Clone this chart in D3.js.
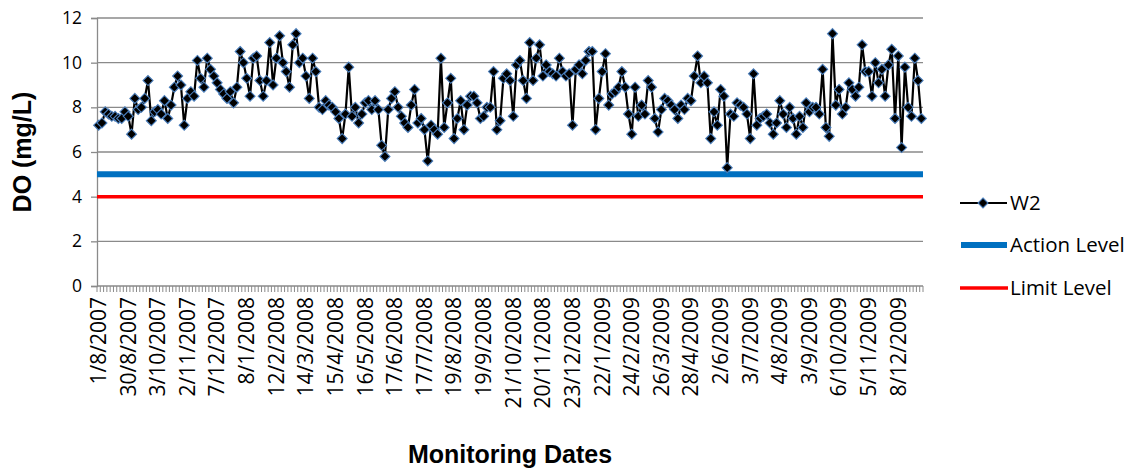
<!DOCTYPE html>
<html>
<head>
<meta charset="utf-8">
<script src="https://cdn.jsdelivr.net/npm/d3@7/dist/d3.min.js"></script>
<style>
  html, body { margin: 0; padding: 0; background: #fff; }
  svg { display: block; }
</style>
</head>
<body>
<svg id="chart" width="1131" height="472"></svg>
<script>
// Dissolved oxygen readings at station W2, one value per monitoring visit (mg/L)
const w2 = [
  7.2, 7.3, 7.8, 7.7, 7.6, 7.6, 7.5, 7.5, 7.8, 7.6, 6.8, 8.4, 7.9, 8.0, 8.4, 9.2, 7.4, 7.8, 7.9, 7.7,
  8.3, 7.5, 8.1, 8.9, 9.4, 9.0, 7.2, 8.4, 8.7, 8.5, 10.1, 9.3, 8.9, 10.2, 9.7, 9.4, 9.1, 8.8, 8.6, 8.4,
  8.7, 8.2, 8.9, 10.5, 10.0, 9.3, 8.5, 10.2, 10.3, 9.2, 8.5, 9.2, 10.9, 9.0, 10.2, 11.2, 10.0, 9.6, 8.9, 10.8,
  11.3, 10.0, 10.2, 9.4, 8.4, 10.2, 9.6, 8.0, 7.9, 8.3, 8.1, 8.0, 7.8, 7.5, 6.6, 7.7, 9.8, 7.6, 8.0, 7.3,
  7.7, 8.2, 8.3,
  7.9, 8.3, 7.9, 6.3, 5.8, 7.9, 8.4, 8.7, 8.0, 7.6, 7.3, 7.1, 8.1, 8.8, 7.3, 7.5, 7.0, 5.6, 7.2, 7.0,
  6.8, 10.2, 7.1, 8.2, 9.3, 6.6, 7.5, 8.3, 7.0, 8.1, 8.5, 8.5, 8.2, 7.5, 7.6, 8.0, 8.0, 9.6, 7.0, 7.4,
  9.3, 9.5,
  9.2, 7.6, 9.9, 10.1, 9.2, 8.4, 10.9, 9.2, 10.2, 10.8, 9.4, 9.9, 9.6, 9.5, 9.4, 10.2, 9.6, 9.4, 9.5, 7.2,
  9.7, 9.9, 9.5, 10.1, 10.5, 10.5, 7.0, 8.4, 9.6, 10.4, 8.1, 8.6, 8.7, 8.9, 9.6, 8.9, 7.7, 6.8, 8.9, 7.6,
  8.1, 7.7, 9.2,
  8.9, 7.5, 6.9, 7.9, 8.4, 8.3, 8.1, 7.9, 7.5, 8.1, 7.9, 8.4, 8.3, 9.4, 10.3, 9.1, 9.4, 9.1, 6.6, 7.8,
  7.2, 8.8, 8.5, 5.3, 7.7, 7.6, 8.2, 8.1, 8.0, 7.7, 6.6, 9.5, 7.2, 7.5, 7.6, 7.7, 7.3, 6.8, 7.3, 8.3,
  7.7, 7.1,
  8.0, 7.5, 6.8, 7.6, 7.1, 8.2, 7.8, 8.0, 8.0, 7.7, 9.7, 7.1, 6.7, 11.3, 8.1, 8.8, 7.7, 8.0, 9.1, 8.8,
  8.5, 8.9, 10.8, 9.6, 9.6, 8.5, 10.0, 9.1, 9.7, 8.5, 9.9, 10.6, 7.5, 10.3, 6.2, 9.8, 8.0, 7.6, 10.2, 9.2,
  7.5
];

// Regulatory reference levels (mg/L)
const actionLevel = 5;
const limitLevel = 4;

// Date labels shown along the category axis, one every nine visits
const dateLabels = [
  "1/8/2007", "30/8/2007", "3/10/2007", "2/11/2007", "7/12/2007", "8/1/2008", "12/2/2008",
  "14/3/2008", "15/4/2008", "16/5/2008", "17/6/2008", "17/7/2008", "19/8/2008", "19/9/2008",
  "21/10/2008", "20/11/2008", "23/12/2008", "22/1/2009", "24/2/2009", "26/3/2009", "28/4/2009",
  "2/6/2009", "3/7/2009", "4/8/2009", "3/9/2009", "6/10/2009", "5/11/2009", "8/12/2009"
];
const labelEvery = 9;

// Value axis ticks
const yTicks = [0, 2, 4, 6, 8, 10, 12];

const visits = d3.range(w2.length);

const svg = d3.select("#chart");
const plot = { left: 97, right: 923, top: 18, bottom: 286 };

const x = d3.scaleBand().domain(visits).range([plot.left, plot.right]).padding(0);
const y = d3.scaleLinear().domain([0, 12]).range([plot.bottom, plot.top]);

const gridColor = "#8a8a8a";
const tickFont = "'Open Sans', 'Liberation Sans', sans-serif";

// Horizontal gridlines
svg.append("g")
  .selectAll("line")
  .data(yTicks.filter(t => t > 0))
  .join("line")
  .attr("x1", plot.left).attr("x2", plot.right)
  .attr("y1", d => y(d)).attr("y2", d => y(d))
  .attr("stroke", gridColor).attr("stroke-width", 1.3);

// Value axis
const yAxis = svg.append("g")
  .attr("transform", `translate(${plot.left},0)`)
  .call(d3.axisLeft(y).tickValues(yTicks).tickSize(6).tickPadding(9));
yAxis.select(".domain").attr("stroke", gridColor).attr("stroke-width", 1.3);
yAxis.selectAll(".tick line").attr("stroke", gridColor).attr("stroke-width", 1.3);
yAxis.selectAll(".tick text")
  .attr("font-family", tickFont).attr("font-size", 17.5).attr("fill", "#000");

// Category axis: a tick mark at every visit boundary
svg.append("g")
  .selectAll("line")
  .data(d3.range(w2.length + 1))
  .join("line")
  .attr("x1", d => plot.left + d * x.bandwidth())
  .attr("x2", d => plot.left + d * x.bandwidth())
  .attr("y1", plot.bottom).attr("y2", plot.bottom + 6)
  .attr("stroke", gridColor).attr("stroke-width", 1);

svg.append("line")
  .attr("x1", plot.left).attr("x2", plot.right)
  .attr("y1", plot.bottom).attr("y2", plot.bottom)
  .attr("stroke", gridColor).attr("stroke-width", 1.3);

// Date labels, rotated
const labelVisits = dateLabels.map((_, i) => i * labelEvery);
const xAxis = svg.append("g")
  .attr("transform", `translate(0,${plot.bottom})`)
  .call(d3.axisBottom(x)
    .tickValues(labelVisits)
    .tickSize(0)
    .tickFormat(d => dateLabels[d / labelEvery]));
xAxis.select(".domain").remove();
xAxis.selectAll(".tick text")
  .attr("font-family", tickFont).attr("font-size", 21).attr("fill", "#000")
  .attr("text-anchor", "end")
  .attr("transform", "rotate(-90)")
  .attr("x", -11).attr("y", 0).attr("dy", "0.35em");

// Action and limit levels
svg.append("line")
  .attr("x1", plot.left).attr("x2", plot.right)
  .attr("y1", y(actionLevel)).attr("y2", y(actionLevel))
  .attr("stroke", "#0070c0").attr("stroke-width", 6);
svg.append("line")
  .attr("x1", plot.left).attr("x2", plot.right)
  .attr("y1", y(limitLevel)).attr("y2", y(limitLevel))
  .attr("stroke", "#ff0000").attr("stroke-width", 3.5);

// W2 series
const cx = i => x(i) + x.bandwidth() / 2;
svg.append("path")
  .datum(w2)
  .attr("fill", "none")
  .attr("stroke", "#000")
  .attr("stroke-width", 2.2)
  .attr("stroke-linejoin", "round")
  .attr("d", d3.line().x((d, i) => cx(i)).y(d => y(d)));

const diamond = "M0,-5L5,0L0,5L-5,0Z";
svg.append("g")
  .selectAll("path")
  .data(w2)
  .join("path")
  .attr("d", diamond)
  .attr("transform", (d, i) => `translate(${cx(i)},${y(d)})`)
  .attr("fill", "#000")
  .attr("stroke", "#4a7ebb")
  .attr("stroke-width", 1.1);

// Axis titles
svg.append("text")
  .attr("transform", `translate(31,${(plot.top + plot.bottom) / 2}) rotate(-90)`)
  .attr("text-anchor", "middle")
  .attr("font-family", "'Liberation Sans', Arial, sans-serif")
  .attr("font-weight", "bold").attr("font-size", 25)
  .text("DO (mg/L)");

svg.append("text")
  .attr("x", (plot.left + plot.right) / 2).attr("y", 463)
  .attr("text-anchor", "middle")
  .attr("font-family", "'Liberation Sans', Arial, sans-serif")
  .attr("font-weight", "bold").attr("font-size", 25)
  .text("Monitoring Dates");

// Legend
const legend = svg.append("g").attr("font-family", tickFont).attr("font-size", 20.5);
const legendRows = [
  { name: "W2", y: 203, kind: "series" },
  { name: "Action Level", y: 245, kind: "action" },
  { name: "Limit Level", y: 288, kind: "limit" }
];
legendRows.forEach(r => {
  const g = legend.append("g").attr("transform", `translate(0,${r.y})`);
  if (r.kind === "series") {
    g.append("line").attr("x1", 960).attr("x2", 1007).attr("stroke", "#000").attr("stroke-width", 2.2);
    g.append("path").attr("d", diamond).attr("transform", "translate(983,0)")
      .attr("fill", "#000").attr("stroke", "#4a7ebb").attr("stroke-width", 1.1);
  } else if (r.kind === "action") {
    g.append("line").attr("x1", 961).attr("x2", 1007).attr("stroke", "#0070c0").attr("stroke-width", 6);
  } else {
    g.append("line").attr("x1", 960).attr("x2", 1008).attr("stroke", "#ff0000").attr("stroke-width", 3.5);
  }
  g.append("text").attr("x", 1010).attr("dy", "0.35em").attr("fill", "#000").text(r.name);
});
</script>
</body>
</html>
